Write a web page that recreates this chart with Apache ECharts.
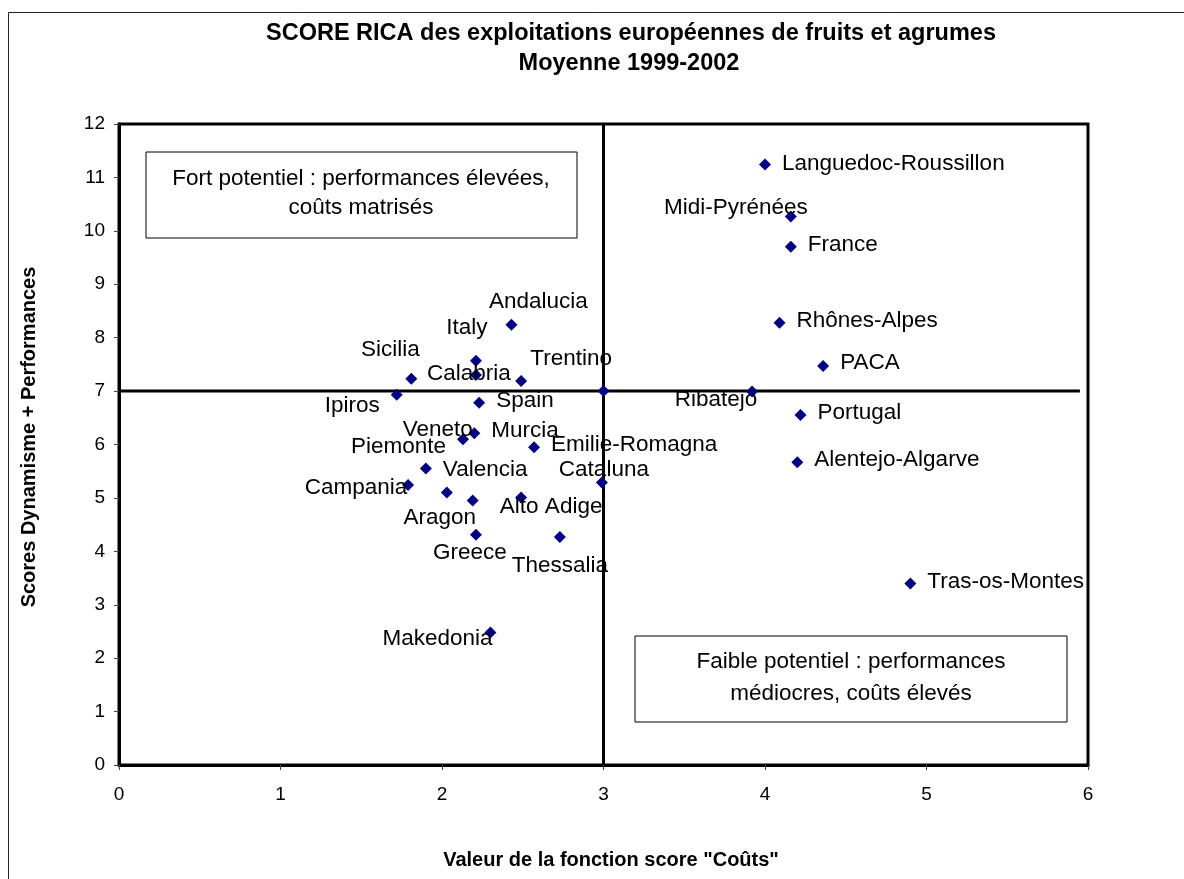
<!DOCTYPE html>
<html>
<head>
<meta charset="utf-8">
<title>SCORE RICA</title>
<script src="https://cdn.jsdelivr.net/npm/echarts@6/dist/echarts.min.js"></script>
<style>
	html, body { margin: 0; padding: 0; background: #fff; }
	#chart { width: 1184px; height: 879px; }
</style>
</head>
<body>
<div id="chart"></div>
<script>
// regions and their two scores
var regions = ['Andalucia', 'Italy', 'Calabria', 'Sicilia', 'Trentino', 'Ipiros', 'Spain', 'Murcia',
	'Piemonte', 'Emilie-Romagna', 'Valencia', 'Campania', 'Aragon', 'Veneto', 'Alto Adige', 'Cataluna',
	'Greece', 'Thessalia', 'Makedonia', 'Languedoc-Roussillon', 'Midi-Pyrénées', 'France', 'Rhônes-Alpes',
	'PACA', 'Ribatejo', 'Portugal', 'Alentejo-Algarve', 'Tras-os-Montes'];
var costScores = [2.43, 2.21, 2.21, 1.81, 2.49, 1.72, 2.23, 2.20,
	2.13, 2.57, 1.90, 1.79, 2.03, 2.19, 2.49, 2.99,
	2.21, 2.73, 2.30, 4.00, 4.16, 4.16, 4.09,
	4.36, 3.92, 4.22, 4.20, 4.90];
var perfScores = [8.24, 7.57, 7.30, 7.23, 7.19, 6.93, 6.78, 6.21,
	6.10, 5.95, 5.55, 5.24, 5.10, 4.95, 5.01, 5.29,
	4.31, 4.27, 2.48, 11.24, 10.27, 9.70, 8.28,
	7.47, 6.99, 6.55, 5.67, 3.40];

// unlabeled point at the crossing of the two thresholds
var crossPoint = [3, 7];
// threshold lines
var hLine = [[0, 7], [5.95, 7]];
var vLine = [[3, 0], [3, 12]];

var xMin = 0, xMax = 6, xStep = 1;
var yMin = 0, yMax = 12, yStep = 1;

var titleLines = ['SCORE RICA des exploitations européennes de fruits et agrumes', 'Moyenne 1999-2002'];
var xName = 'Valeur de la fonction score "Coûts"';
var yName = 'Scores Dynamisme + Performances';
var boxFort = 'Fort potentiel : performances élevées,\ncoûts matrisés';
var boxFaible = 'Faible potentiel : performances\nmédiocres, coûts élevés';

// where each label sits around its point (pixels)
var labelPlace = {
	'Andalucia': { dx: 27, dy: -23 },
	'Italy': { dx: -9, dy: -33 },
	'Calabria': { dx: -7, dy: -1 },
	'Sicilia': { dx: -21, dy: -29 },
	'Trentino': { dx: 50, dy: -22 },
	'Ipiros': { pos: 'left', dy: 11 },
	'Spain': { pos: 'right', dy: -2 },
	'Murcia': { pos: 'right', dy: -2 },
	'Piemonte': { pos: 'left', dy: 8 },
	'Emilie-Romagna': { pos: 'right', dy: -2 },
	'Valencia': { pos: 'right', dy: 1 },
	'Campania': { dx: -52, dy: 3 },
	'Aragon': { dx: -7, dy: 25 },
	'Veneto': { dx: -35, dy: -71 },
	'Alto Adige': { dx: 30, dy: 9 },
	'Cataluna': { dx: 2, dy: -13 },
	'Greece': { dx: -6, dy: 18 },
	'Thessalia': { dx: 0, dy: 29 },
	'Makedonia': { dx: -53, dy: 6 },
	'Languedoc-Roussillon': { pos: 'right', dy: -1 },
	'Midi-Pyrénées': { dx: -55, dy: -9 },
	'France': { pos: 'right', dy: -2 },
	'Rhônes-Alpes': { pos: 'right', dy: -2 },
	'PACA': { pos: 'right', dy: -3 },
	'Ribatejo': { dx: -36, dy: 8 },
	'Portugal': { pos: 'right', dy: -2 },
	'Alentejo-Algarve': { pos: 'right', dy: -2 },
	'Tras-os-Montes': { pos: 'right', dy: -2 }
};

var FONT = 'Liberation Sans, Arial, sans-serif';
var NAVY = '#000080';
var LABEL_GAP = 17;

var pointData = [];
for(var i = 0; i < regions.length; i++) {
	pointData.push({
		name: regions[i],
		value: [costScores[i], perfScores[i]]
	});
}

var chart = echarts.init(document.getElementById('chart'), null, { renderer: 'canvas' });

var axisCommon = {
	type: 'value',
	axisLine: { show: true, onZero: false, lineStyle: { color: '#000', width: 3 } },
	axisTick: { show: true, inside: false, length: 5, lineStyle: { color: '#444', width: 1 } },
	axisLabel: { color: '#000', fontSize: 19, fontFamily: FONT },
	splitLine: { show: false }
};

function textEl(txt, x, y, font, extra) {
	var el = {
		type: 'text', silent: true, z: 51,
		style: { text: txt, x: x, y: y, align: 'center', verticalAlign: 'middle',
			textAlign: 'center', textVerticalAlign: 'middle', font: font, fill: '#000' }
	};
	if(extra) {
		for(var k in extra) el.style[k] = extra[k];
	}
	return el;
}

var option = {
	animation: false,
	backgroundColor: '#fff',
	grid: {
		left: 119, right: 96, top: 124, bottom: 114,
		show: true, borderColor: '#000', borderWidth: 3,
		outerBoundsMode: 'none'
	},
	xAxis: echarts.util.merge({ min: xMin, max: xMax, interval: xStep, axisLabel: { margin: 20 } }, axisCommon),
	yAxis: echarts.util.merge({ min: yMin, max: yMax, interval: yStep, axisLabel: { margin: 14 } }, axisCommon),
	graphic: [
		{
			type: 'rect', z: -10, silent: true,
			shape: { x: 8.5, y: 12.5, width: 1400, height: 1000 },
			style: { fill: 'none', stroke: '#222', lineWidth: 1 }
		},
		textEl(titleLines[0], 631, 34, 'bold 23.5px ' + FONT),
		textEl(titleLines[1], 629, 64, 'bold 23.5px ' + FONT),
		textEl(xName, 611, 860, 'bold 20px ' + FONT),
		{
			type: 'text', silent: true,
			x: 29, y: 437, rotation: Math.PI / 2,
			style: { text: yName, x: 0, y: 0, align: 'center', verticalAlign: 'middle',
				textAlign: 'center', textVerticalAlign: 'middle',
				font: 'bold 20px ' + FONT, fill: '#000' }
		},
		{
			type: 'rect', z: 50, silent: true,
			shape: { x: 146, y: 152, width: 431, height: 86 },
			style: { fill: '#fff', stroke: '#000', lineWidth: 1 }
		},
		textEl(boxFort, 361, 193, '22.5px ' + FONT, { lineHeight: 29 }),
		{
			type: 'rect', z: 50, silent: true,
			shape: { x: 635, y: 636, width: 432, height: 86 },
			style: { fill: '#fff', stroke: '#000', lineWidth: 1 }
		},
		textEl(boxFaible, 851, 678, '22.5px ' + FONT, { lineHeight: 32 })
	],
	series: [
		{
			type: 'line', data: hLine, symbol: 'none', silent: true, z: 2,
			lineStyle: { color: '#000', width: 3 }
		},
		{
			type: 'line', data: vLine, symbol: 'none', silent: true, z: 2,
			lineStyle: { color: '#000', width: 3 }
		},
		{
			type: 'scatter', data: [crossPoint], symbol: 'diamond', symbolSize: 12, z: 3,
			itemStyle: { color: NAVY, opacity: 1 }
		},
		{
			type: 'scatter', data: pointData, symbol: 'diamond', symbolSize: 12, z: 3,
			itemStyle: { color: NAVY, opacity: 1 },
			label: {
				show: true,
				position: 'right',
				formatter: '{b}',
				color: '#000',
				fontSize: 22.5,
				fontFamily: FONT
			},
			labelLayout: function(params) {
				var p = labelPlace[regions[params.dataIndex]] || { pos: 'right', dy: 0 };
				var r = params.rect;
				var cx = r.x + r.width / 2;
				var cy = r.y + r.height / 2;
				if(p.pos === 'right') {
					return { x: cx + LABEL_GAP, y: cy + p.dy, align: 'left', verticalAlign: 'middle', hideOverlap: false };
				}
				if(p.pos === 'left') {
					return { x: cx - LABEL_GAP, y: cy + p.dy, align: 'right', verticalAlign: 'middle', hideOverlap: false };
				}
				return { x: cx + p.dx, y: cy + p.dy, align: 'center', verticalAlign: 'middle', hideOverlap: false };
			}
		}
	]
};

chart.setOption(option);
</script>
</body>
</html>
